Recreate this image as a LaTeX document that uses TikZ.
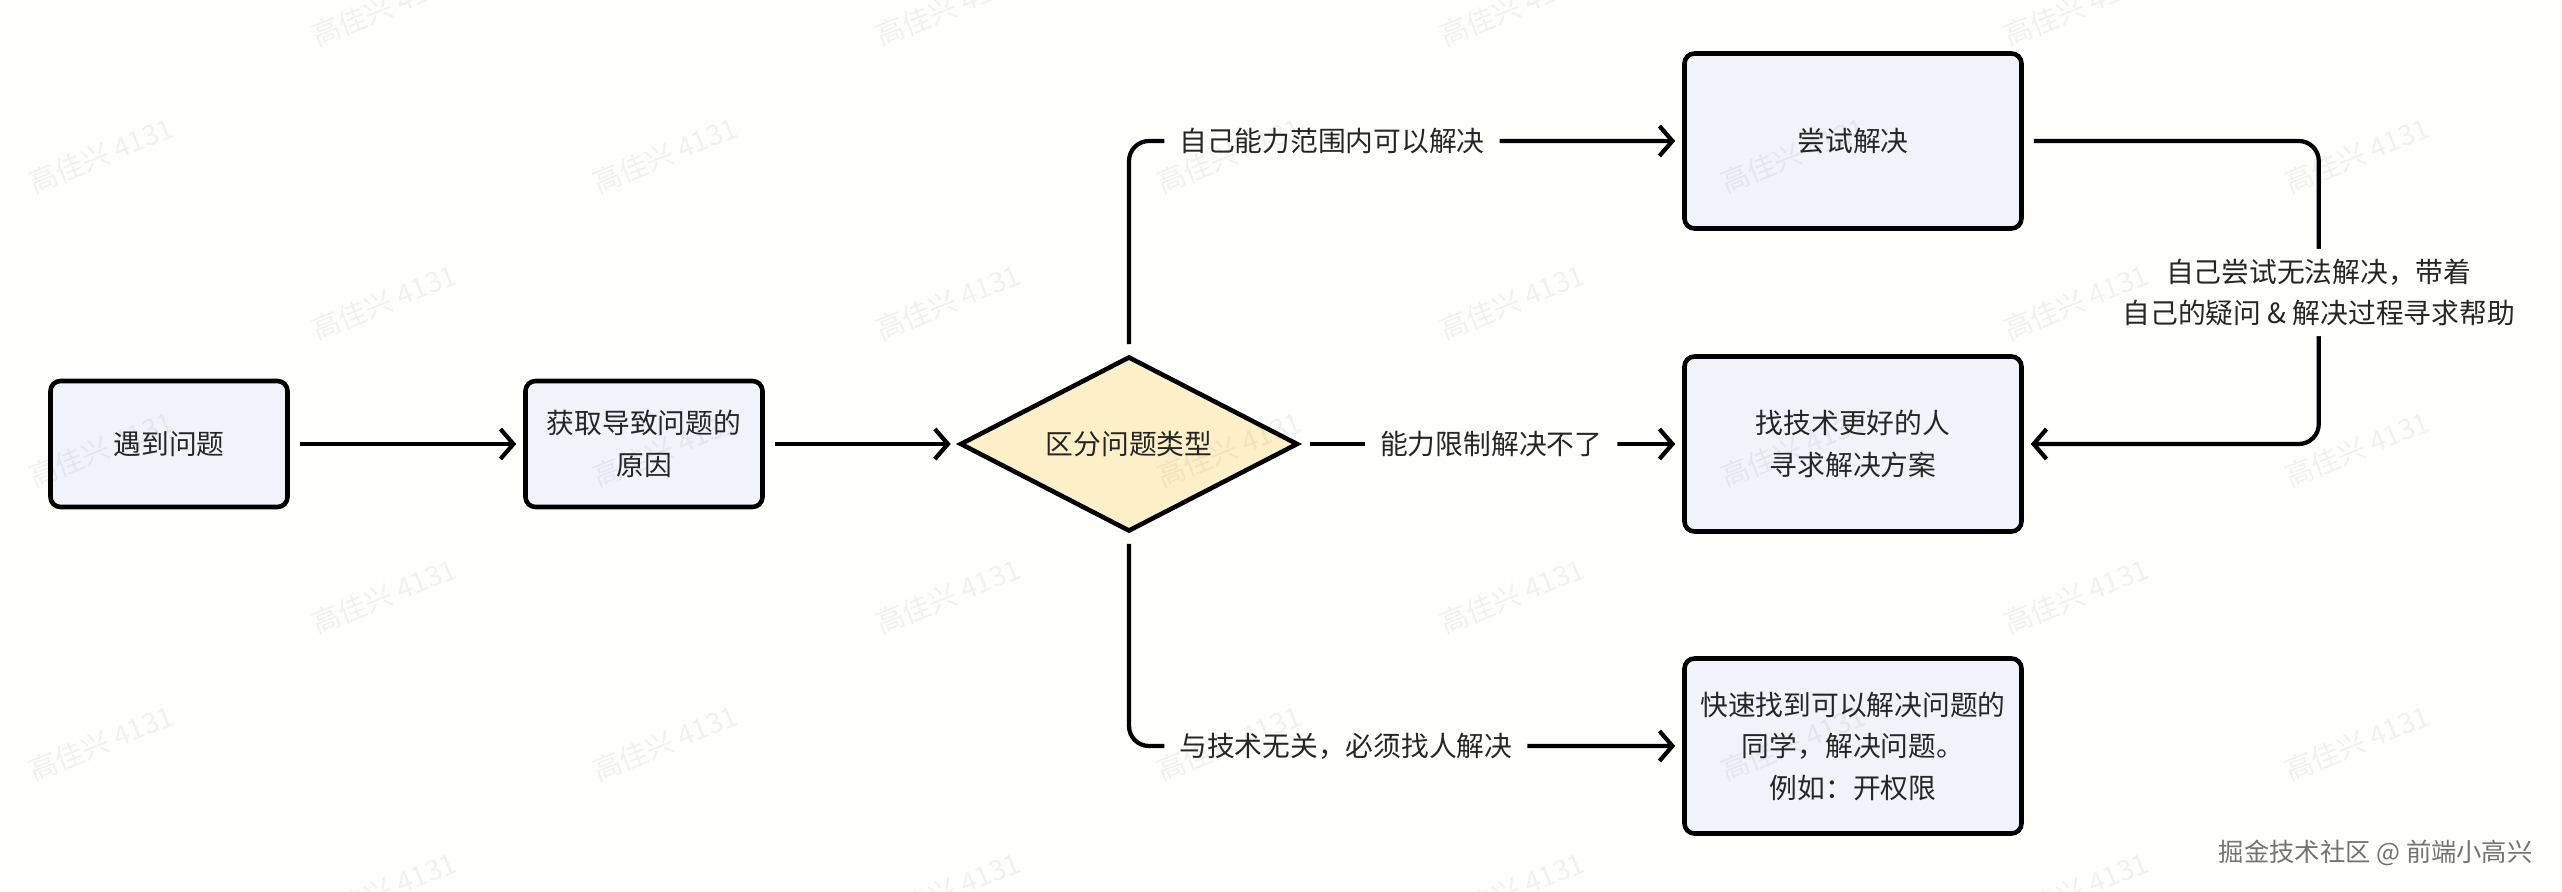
\documentclass[tikz,border=0pt]{standalone}
\usepackage{fontspec}
\setmainfont{Noto Sans CJK SC}
\usetikzlibrary{shapes.geometric, arrows.meta, positioning}
\definecolor{bgcolor}{RGB}{254,254,251}
\definecolor{boxfill}{RGB}{240,243,250}
\definecolor{decisionfill}{RGB}{253,240,200}
\definecolor{textgray}{RGB}{38,38,38}
\tikzstyle{smallbox} = [
    rectangle,
    rounded corners=0.1cm,
    minimum width=2.37cm,
    minimum height=1.26cm,
    line width=1.3pt,
    draw=black,
    fill=boxfill,
    align=center
]
\tikzstyle{bigbox} = [
    rectangle,
    rounded corners=0.1cm,
    minimum width=3.37cm,
    minimum height=1.75cm,
    line width=1.3pt,
    draw=black,
    fill=boxfill,
    align=center
]
\tikzstyle{decision} = [
    diamond,
    aspect=2,
    minimum width=3.38cm,
    minimum height=1.75cm,
    line width=1.3pt,
    draw=black,
    fill=decisionfill
]
\tikzstyle{edgelabel} = [
    fill=bgcolor,
    inner xsep=0.15cm,
    inner ysep=0.1cm,
    align=center
]
\tikzstyle{watermark} = [
    rotate=22,
    text=black,
    opacity=0.05,
    font=\fontsize{8pt}{9pt}\selectfont
]
\tikzstyle{arrow} = [line width=1.2pt, -{Straight Barb[length=0.13cm, width=0.3cm]},
    shorten <=0.1cm, shorten >=0.07cm, rounded corners=0.2cm]

\begin{document}
\begin{tikzpicture}[node distance=4.75cm, font=\fontsize{7.9pt}{11.8pt}\selectfont, text=textgray]

\fill [bgcolor] (0,0) rectangle (25.62,-8.92);
\useasboundingbox (0,0) rectangle (25.62,-8.92);

\node (meet) [smallbox] at (1.69,-4.44) {遇到问题};

\node (cause) [smallbox, right of=meet]
{获取导致问题的\\原因};

\node (judge) [decision, right of=cause, xshift=0.1cm]
{区分问题类型};

\node (expert) [bigbox, right of=judge, xshift=2.49cm]
{找技术更好的人\\寻求解决方案};

\node (attempt) [bigbox, node distance=3.03cm, above of=expert]
{尝试解决};

\node (mate) [bigbox, node distance=3.02cm, below of=expert]
{快速找到可以解决问题的\\同学，解决问题。\\例如：开权限};

\draw [arrow] (meet) -- (cause);
\draw [arrow] (cause) -- (judge);

\draw [arrow] (judge) -- node[edgelabel]{能力限制解决不了} (expert);
\draw [arrow] (judge.north) |- node[edgelabel, pos=0.53, anchor=west]{自己能力范围内可以解决} (attempt);
\draw [arrow] (judge.south) |- node[edgelabel, pos=0.53, anchor=west]{与技术无关，必须找人解决} (mate);

\draw [arrow] (attempt.east) -- ++(2.95,0) |- node[edgelabel, pos=0.25]
{自己尝试无法解决，带着\\自己的疑问 \& 解决过程寻求帮助} (expert.east);

\foreach \i in {0,...,4} {
    \foreach \j in {0,...,3} {
        \node (marka\i\j) [watermark] at (3.84+5.64*\i, -0.08-2.94*\j) {高佳兴 4131};
        \node (markb\i\j) [watermark] at (1.01+5.64*\i, -1.55-2.94*\j) {高佳兴 4131};
    }
}

\node (footer) [anchor=east, text=black!55, font=\fontsize{7.2pt}{9pt}\selectfont]
at (25.45,-8.53) {掘金技术社区 @ 前端小高兴};

\end{tikzpicture}
\end{document}
